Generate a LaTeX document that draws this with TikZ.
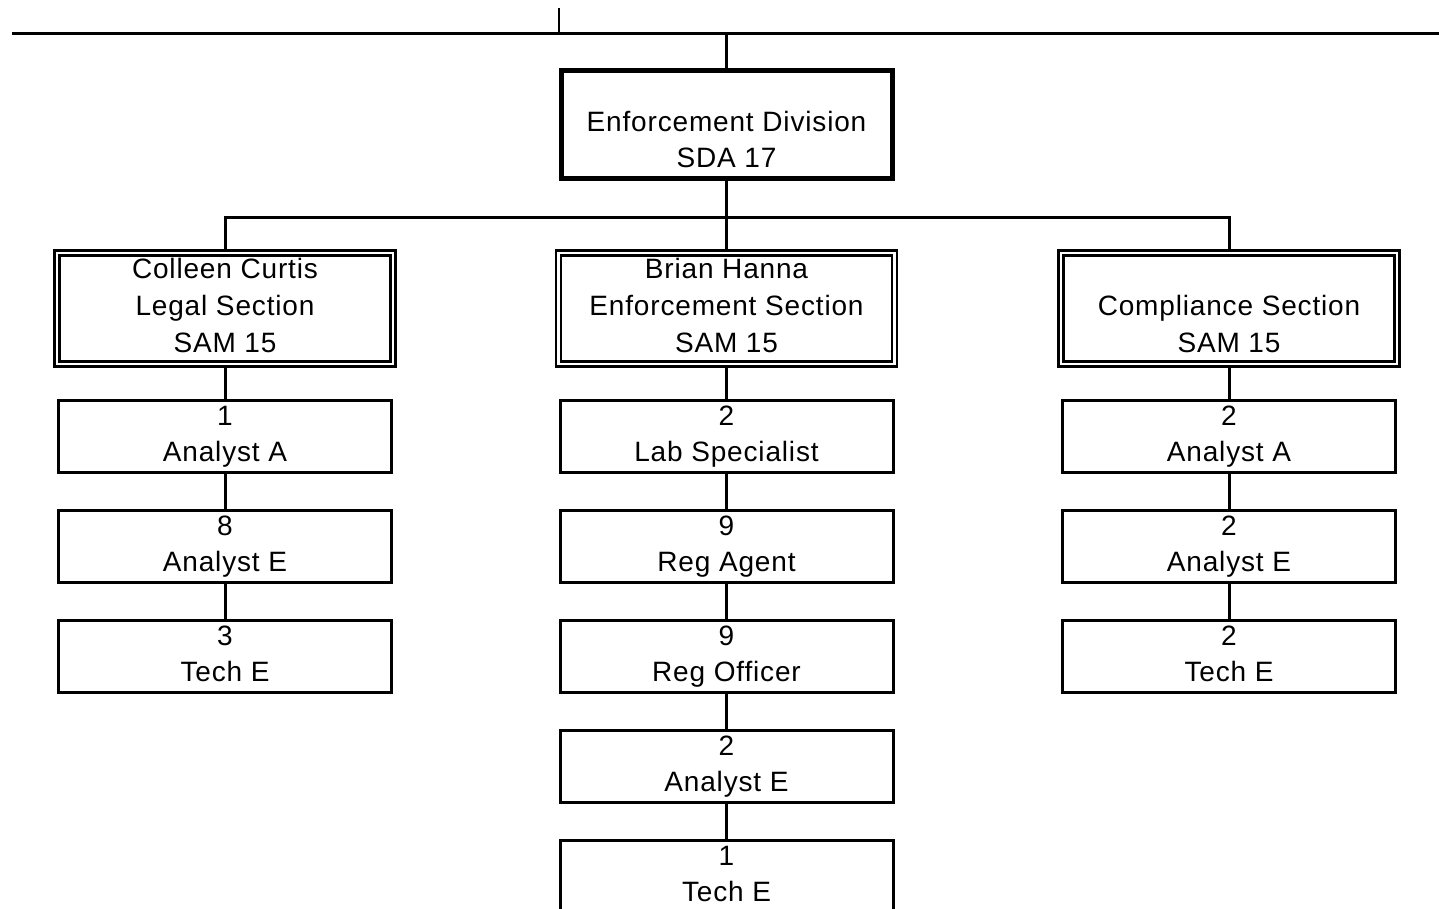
\documentclass[tikz,border=0pt]{standalone}
\usepackage{fontspec}
\setmainfont{Liberation Sans}[LetterSpace=3]
\begin{document}
\begin{tikzpicture}[x=1pt,y=-1pt,
  txt/.style={font=\fontsize{28}{36}\selectfont, align=center, inner sep=0pt},
  sectxt/.style={font=\fontsize{28}{37}\selectfont, align=center, inner sep=0pt},
  topbox/.style={draw, line width=5pt, minimum width=331pt, minimum height=107pt, txt},
  secbox/.style={draw, line width=2.5pt, double, double distance=2.5pt, minimum width=336pt, minimum height=109pt, sectxt},
  staff/.style={draw, line width=3pt, minimum width=333pt, minimum height=70pt, txt},
  conn/.style={line width=3pt}
]
\useasboundingbox (0,0) rectangle (1439,908);
\clip (0,0) rectangle (1439,908);

% top rule
\coordinate (ruleL) at (12,33);
\coordinate (ruleR) at (1439,33);
\coordinate (tickT) at (559,8);
\coordinate (tickB) at (559,33);
\coordinate (drop) at (726.5,33);
\draw[conn] (ruleL) -- (ruleR);
\draw[line width=2pt] (tickT) -- (tickB);

% division
\node[topbox] (div) at (726.5,124) {\strut\\\strut Enforcement Division\\\strut SDA 17};
\draw[conn] (drop) -- (div.north);

% sections
\node[secbox] (legal) at (225,308.5) {\strut Colleen Curtis\\\strut Legal Section\\\strut SAM 15};
\node[secbox] (enf) at (726.5,308.5) {\strut Brian Hanna\\\strut Enforcement Section\\\strut SAM 15};
\node[secbox] (comp) at (1229,308.5) {\strut\\\strut Compliance Section\\\strut SAM 15};

\coordinate (bus) at (726.5,217);
\draw[conn] (div.south) -- (bus);
\draw[conn] (legal.north) |- (bus) -| (comp.north);
\draw[conn] (enf.north) -- (bus);

% legal column
\node[staff] (l1) at (225,436.5) {\strut 1\\\strut Analyst A};
\node[staff] (l2) at (225,546.5) {\strut 8\\\strut Analyst E};
\node[staff] (l3) at (225,656.5) {\strut 3\\\strut Tech E};
\draw[conn] (legal.south) -- (l1.north);
\draw[conn] (l1.south) -- (l2.north);
\draw[conn] (l2.south) -- (l3.north);

% enforcement column
\node[staff] (e1) at (726.5,436.5) {\strut 2\\\strut Lab Specialist};
\node[staff] (e2) at (726.5,546.5) {\strut 9\\\strut Reg Agent};
\node[staff] (e3) at (726.5,656.5) {\strut 9\\\strut Reg Officer};
\node[staff] (e4) at (726.5,766.5) {\strut 2\\\strut Analyst E};
\node[staff] (e5) at (726.5,876.5) {\strut 1\\\strut Tech E};
\draw[conn] (enf.south) -- (e1.north);
\draw[conn] (e1.south) -- (e2.north);
\draw[conn] (e2.south) -- (e3.north);
\draw[conn] (e3.south) -- (e4.north);
\draw[conn] (e4.south) -- (e5.north);

% compliance column
\node[staff] (c1) at (1229,436.5) {\strut 2\\\strut Analyst A};
\node[staff] (c2) at (1229,546.5) {\strut 2\\\strut Analyst E};
\node[staff] (c3) at (1229,656.5) {\strut 2\\\strut Tech E};
\draw[conn] (comp.south) -- (c1.north);
\draw[conn] (c1.south) -- (c2.north);
\draw[conn] (c2.south) -- (c3.north);
\end{tikzpicture}
\end{document}
